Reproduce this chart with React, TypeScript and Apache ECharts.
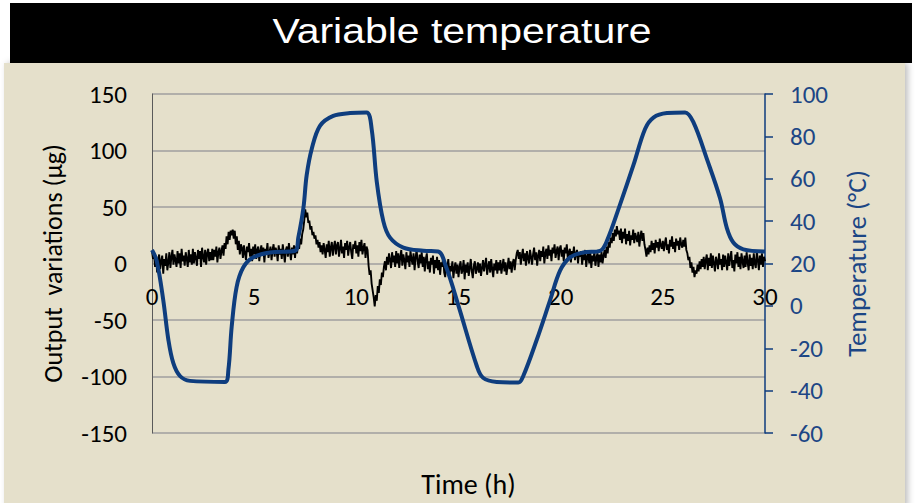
import React, { useEffect, useRef } from "react";
import * as echarts from "echarts";

// Temperature program (°C) against time (h)
const tempTime = [
  0, 0.23, 0.55, 0.8, 1.04, 1.37, 1.86, 3.57, 3.74, 3.9, 4.14, 4.47, 4.96, 5.78, 7.0,
  7.16, 7.41, 7.57, 7.82, 8.22, 8.87, 9.69, 10.5, 10.75, 11.0, 11.32, 11.65, 12.3, 13.28,
  14.0, 14.4, 15.0, 15.9, 16.2, 16.87, 17.93, 18.17, 18.83, 19.48, 19.97, 20.46, 21.1,
  21.93, 22.26, 22.9, 23.56, 24.13, 24.54, 25.2, 26.09, 26.5, 27.15, 27.8, 28.13, 28.45,
  28.94, 30,
];
const tempValue = [
  26.4, 21.3, 2.8, -15.9, -26.9, -33.1, -35.4, -35.9, -30, -9.8, 8.9, 18.2, 22.9, 25.2, 26,
  32.2, 46.2, 61.7, 74.2, 85, 89.7, 91, 91.3, 83.5, 58.6, 40, 32.2, 27.5, 26,
  25.7, 18.2, 0, -28.5, -33.9, -35.9, -36.2, -33.1, -16, 2.6, 16.6, 22.9, 25.2,
  26, 30.6, 47.7, 66.4, 83.5, 88.9, 91, 91.3, 86.6, 69.5, 50.8, 36.8, 29.9,
  26.7, 25.7,
];

// Output variation (µg), one reading every 0.05 h from 0 to 30 h (one row per hour)
const outputStep = 0.05;
const outputValue = [
  11, 4, 9, -3, 6, -8, 3, 8, -5, 2, 7, -9, 4, -2, 9, -6, 1, 10, -4, 6,
  12, -1, 8, 3, -3, 11, 0, 9, -4, 13, 2, 7, -2, 10, 4, -3, 12, 1, 8, -1,
  13, 0, 10, 5, -2, 12, 4, 11, -3, 14, 6, 1, 12, -1, 9, 13, 2, 10, 3, 13,
  3, 12, 6, 15, 1, 10, 14, 4, 11, 16, 7, 18, 13, 24, 17, 28, 21, 29, 25, 30,
  22, 29, 17, 24, 12, 20, 8, 17, 14, 5, 16, 9, 3, 15, 10, 18, 6, 13, 2, 15,
  8, 17, 4, 12, 15, 2, 11, 16, 7, 14, 1, 13, 9, 18, 5, 10, 15, 3, 12, 17,
  6, 14, 11, 2, 16, 8, 13, 4, 17, 9, 1, 12, 15, 6, 18, 10, 3, 14, 8, 16,
  5, 15, 9, 18, 13, 22, 17, 26, 30, 38, 48, 41, 45, 36, 38, 30, 33, 25, 28, 22,
  25, 17, 21, 14, 19, 10, 16, 8, 18, 12, 5, 17, 10, 20, 6, 14, 19, 7, 15, 20,
  8, 16, 19, 6, 13, 21, 9, 15, 5, 18, 12, 20, 7, 14, 19, 10, 4, 17, 13, 20,
  9, 16, 6, 19, 11, 21, 8, 14, 18, 5, 15, 12, -2, -10, -6, -18, -24, -30, -38, -28,
  -33, -20, -26, -14, -19, -8, -12, -3, 2, -6, 6, -1, 9, 3, -4, 10, 1, 7, -3, 11,
  0, 9, -4, 6, 12, -2, 8, 3, -5, 10, 1, 7, -3, 11, 4, -1, 9, -6, 5, 12,
  2, -4, 8, 0, 10, -3, 6, -7, 4, 9, -5, 2, -8, 5, -1, 7, -9, 3, -4, 6,
  -6, 3, -10, 1, -3, 6, -8, -12, 0, -5, 4, -11, -2, -7, 2, -13, -4, 1, -9, -1,
  -12, -3, 2, -9, -6, 3, -14, -1, -8, 1, -11, -4, 4, -7, -13, -2, 2, -9, -5, 1,
  -8, 0, -11, -4, 3, -7, -1, 5, -10, -3, 2, -8, 4, -5, -12, 0, -6, 3, -9, 1,
  -6, 3, -9, -2, 4, -7, 1, -10, -3, 5, -5, 2, -8, 0, 4, -6, 3, 9, 12, 4,
  10, -1, 7, 13, 2, 9, -2, 11, 5, 0, 12, 6, -1, 8, 14, 3, 10, -2, 7, 12,
  2, 11, 6, 15, 0, 9, 13, 4, 16, 7, 12, 2, 14, 9, 17, 5, 11, 15, 3, 13,
  16, 6, 12, 2, 14, 9, 17, 4, 10, 13, 1, 11, 7, 15, 3, 9, 12, 0, 10, 6,
  11, -1, 8, 3, 12, -3, 6, 9, 0, 10, -4, 7, 2, 11, -2, 5, 9, -3, 8, 1,
  10, 0, 7, 12, 5, 15, 9, 19, 14, 23, 18, 27, 20, 30, 24, 33, 26, 29, 21, 31,
  18, 28, 22, 31, 17, 26, 20, 29, 16, 25, 21, 30, 18, 27, 23, 19, 28, 15, 24, 29,
  20, 27, 17, 12, 6, 14, 8, 16, 10, 20, 12, 18, 9, 21, 14, 19, 11, 22, 16, 13,
  20, 11, 18, 23, 12, 17, 9, 21, 15, 24, 13, 19, 10, 22, 16, 20, 12, 23, 17, 14,
  21, 15, 23, 12, 9, 3, 6, -4, 1, -8, -3, -12, -6, -9, -1, -7, 2, -5, 4, -3,
  6, -5, 3, 8, -6, 5, -2, 9, -4, 7, 0, -7, 6, 2, -5, 9, -1, 4, -6, 8,
  -3, 7, 1, -6, 9, -2, 5, 11, -4, 3, -7, 8, 0, 10, -3, 6, -5, 9, 2, -4,
  7, -3, 10, 1, -6, 8, -2, 5, -5, 9, 0, -4, 11, 3, -6, 7, -1, 9, -3, 6,
  2,
];

const titleText = "Variable temperature";
const xName = "Time (h)";
const leftName = "Output  variations (µg)";
const rightName = "Temperature (°C)";

const font = "Carlito, Calibri, 'Open Sans', sans-serif";
const blue = "#0e3d7e";
const blueText = "#1c4685";
const panel = "#e5e0cb";

export default function App() {
  const ref = useRef<HTMLDivElement>(null);

  useEffect(() => {
    if (!ref.current) return;
    const chart = echarts.init(ref.current, undefined, {
      renderer: "svg",
      width: 917,
      height: 503,
    });

    const outputData = outputValue.map((v, i) => [Math.round(i * outputStep * 100) / 100, v]);
    const tempData = tempTime.map((t, i) => [t, tempValue[i]]);

    chart.setOption({
      animation: false,
      backgroundColor: "#ffffff",
      graphic: [
        {
          type: "rect",
          z: -10,
          silent: true,
          shape: { x: 4, y: 63, width: 901, height: 445 },
          style: { fill: panel, shadowBlur: 6, shadowOffsetX: 3, shadowColor: "rgba(0,0,0,0.25)" },
        },
        {
          type: "rect",
          z: -9,
          silent: true,
          shape: { x: 10, y: 3, width: 902, height: 60 },
          style: { fill: "#000000" },
        },
        {
          type: "text",
          z: 10,
          silent: true,
          x: 462,
          y: 31,
          scaleX: 1.17,
          style: {
            text: titleText,
            fill: "#ffffff",
            fontSize: 35,
            fontFamily: "'Liberation Sans', Arial, sans-serif",
            align: "center",
            verticalAlign: "middle",
          },
        },
      ],
      grid: { left: 152, top: 94, width: 613, height: 343, containLabel: false },
      xAxis: {
        type: "value",
        min: 0,
        max: 30,
        interval: 5,
        name: xName,
        nameLocation: "middle",
        nameGap: 37,
        nameTextStyle: { color: "#000000", fontFamily: font, fontSize: 28, padding: [0, 0, 0, 20] },
        axisLine: { show: false },
        axisTick: { show: false },
        splitLine: { show: false },
        axisLabel: { color: "#000000", fontFamily: font, fontSize: 25, margin: -149 },
      },
      yAxis: [
        {
          type: "value",
          min: -150,
          max: 150,
          interval: 50,
          position: "left",
          name: leftName,
          nameLocation: "middle",
          nameRotate: 90,
          nameGap: 86,
          nameTextStyle: { color: "#000000", fontFamily: font, fontSize: 26 },
          axisLine: { show: true, onZero: false, lineStyle: { color: "#5a5a5a", width: 1 } },
          axisTick: { show: false },
          axisLabel: { color: "#000000", fontFamily: font, fontSize: 25, margin: 25 },
          splitLine: { show: true, lineStyle: { color: "#9f9f9f", width: 1.5 } },
        },
        {
          type: "value",
          min: -60,
          max: 100,
          interval: 20,
          position: "right",
          name: rightName,
          nameLocation: "middle",
          nameRotate: 90,
          nameGap: 78,
          nameTextStyle: { color: blueText, fontFamily: font, fontSize: 27 },
          axisLine: { show: true, onZero: false, lineStyle: { color: blue, width: 1.5 } },
          axisTick: { show: true, inside: false, length: 8, lineStyle: { color: blue, width: 1.5 } },
          axisLabel: { color: blueText, fontFamily: font, fontSize: 25, margin: 25 },
          splitLine: { show: false },
        },
      ],
      series: [
        {
          type: "line",
          name: "Output",
          yAxisIndex: 0,
          data: outputData,
          showSymbol: false,
          symbol: "none",
          lineStyle: { color: "#000000", width: 1.9 },
          z: 2,
        },
        {
          type: "line",
          name: "Temperature",
          yAxisIndex: 1,
          data: tempData,
          smooth: 0.35,
          showSymbol: false,
          symbol: "none",
          lineStyle: { color: blue, width: 4 },
          z: 3,
        },
      ],
    });

    return () => chart.dispose();
  }, []);

  return (
    <div
      ref={ref}
      style={{ position: "fixed", left: 0, top: 0, width: 917, height: 503 }}
    />
  );
}
